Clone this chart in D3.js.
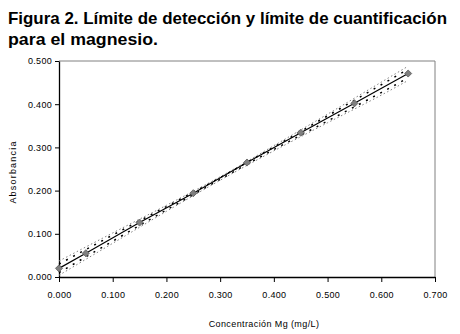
<!DOCTYPE html>
<html>
<head>
<meta charset="utf-8">
<script src="https://cdn.jsdelivr.net/npm/d3@7"></script>
<style>
    body { margin: 0; background: #fff; }
    svg { display: block; font-family: "Liberation Sans", Arial, sans-serif; }
</style>
</head>
<body>
<script>
// measured standards
const concentrations = [0.00, 0.05, 0.15, 0.25, 0.35, 0.45, 0.55, 0.65];
const absorbances = [0.020, 0.055, 0.126, 0.194, 0.265, 0.334, 0.402, 0.471];

// confidence / prediction bands
const bandX = [0.00, 0.10, 0.20, 0.30, 0.40, 0.50, 0.60, 0.65];
const outerUpper = [0.037, 0.102, 0.166, 0.232, 0.304, 0.377, 0.451, 0.488];
const outerLower = [0.004, 0.078, 0.152, 0.224, 0.292, 0.357, 0.421, 0.455];
const innerUpper = [0.030, 0.097, 0.163, 0.230, 0.301, 0.373, 0.445, 0.481];
const innerLower = [0.010, 0.083, 0.155, 0.226, 0.295, 0.361, 0.427, 0.461];

const xTicks = [0, 0.1, 0.2, 0.3, 0.4, 0.5, 0.6, 0.7];
const yTicks = [0, 0.1, 0.2, 0.3, 0.4, 0.5];

const titleLines = ['Figura 2. Límite de detección y límite de cuantificación', 'para el magnesio.'];
const titleWidths = [439, 150];
const xTitle = 'Concentración Mg (mg/L)';
const yTitle = 'Absorbancia';

drawChart();

function drawChart()
{
    const width = 460;
    const height = 334;
    const margin = {left: 59, right: 25, top: 61, bottom: 57};

    const svg = d3.select('body')
        .append('svg')
        .attr('width', width)
        .attr('height', height);

    // title, fitted to the width it has in the original
    svg.append('g')
        .selectAll('text')
        .data(titleLines)
        .enter()
        .append('text')
        .attr('x', 8)
        .attr('y', (d, i) => 24 + i * 20.5)
        .attr('font-size', 17)
        .attr('font-weight', 'bold')
        .attr('fill', '#000')
        .attr('textLength', (d, i) => titleWidths[i])
        .attr('lengthAdjust', 'spacingAndGlyphs')
        .text(d => d);

    const x = d3.scaleLinear()
        .domain([0, 0.7])
        .range([margin.left, width - margin.right]);

    const y = d3.scaleLinear()
        .domain([0, 0.5])
        .range([height - margin.bottom, margin.top]);

    // grey frame on top and right
    svg.append('path')
        .attr('d', `M${x(0)},${y(0.5)}H${x(0.7)}V${y(0)}`)
        .attr('fill', 'none')
        .attr('stroke', '#808080')
        .attr('stroke-width', 1);

    const fmt = d3.format('.3f');

    const xAxis = svg.append('g')
        .attr('transform', `translate(0,${y(0)})`)
        .call(d3.axisBottom(x).tickValues(xTicks).tickFormat(fmt).tickSize(5).tickSizeOuter(0));

    const yAxis = svg.append('g')
        .attr('transform', `translate(${x(0)},0)`)
        .call(d3.axisLeft(y).tickValues(yTicks).tickFormat(fmt).tickSize(4).tickSizeOuter(0));

    [xAxis, yAxis].forEach(a =>
    {
        a.select('.domain').attr('stroke', '#000').attr('stroke-width', 1.3);
        a.selectAll('.tick line').attr('stroke', '#000');
        a.selectAll('.tick text')
            .attr('font-family', '"Liberation Sans", Arial, sans-serif')
            .attr('font-size', 9)
            .attr('letter-spacing', 0.3)
            .attr('fill', '#000');
    });
    xAxis.selectAll('.tick text').attr('dy', '0.71em').attr('y', 15);
    yAxis.selectAll('.tick text').attr('x', -7);

    // axis titles
    svg.append('text')
        .attr('x', 264)
        .attr('y', 327)
        .attr('text-anchor', 'middle')
        .attr('font-size', 9)
        .attr('letter-spacing', 0.4)
        .text(xTitle);

    svg.append('text')
        .attr('transform', `translate(16,${(y(0) + y(0.5)) / 2 + 3}) rotate(-90)`)
        .attr('text-anchor', 'middle')
        .attr('font-size', 9)
        .attr('letter-spacing', 1.2)
        .text(yTitle);

    const line = d3.line()
        .x(d => x(d[0]))
        .y(d => y(d[1]));

    // bands
    const bands = [
        {values: outerUpper, color: '#808080', dash: '1.5,2.5', w: 1},
        {values: outerLower, color: '#808080', dash: '1.5,2.5', w: 1},
        {values: innerUpper, color: '#000', dash: '2,6', w: 1.5},
        {values: innerLower, color: '#000', dash: '2,6', w: 1.5}
    ];

    svg.append('g')
        .selectAll('path')
        .data(bands)
        .enter()
        .append('path')
        .attr('d', d => d3.line().curve(d3.curveMonotoneX)
            .x((v, i) => x(bandX[i]))
            .y(v => y(v))(d.values))
        .attr('fill', 'none')
        .attr('stroke', d => d.color)
        .attr('stroke-width', d => d.w)
        .attr('stroke-dasharray', d => d.dash);

    const points = concentrations.map((c, i) => [c, absorbances[i]]);

    // fitted line through the standards
    svg.append('path')
        .attr('d', line(points))
        .attr('fill', 'none')
        .attr('stroke', '#000')
        .attr('stroke-width', 1.2);

    // diamond markers
    svg.append('g')
        .selectAll('path')
        .data(points)
        .enter()
        .append('path')
        .attr('transform', d => `translate(${x(d[0])},${y(d[1])})`)
        .attr('d', d3.symbol().type(d3.symbolDiamond2).size(32))
        .attr('fill', '#7f7f7f')
        .attr('stroke', '#5a5a5a')
        .attr('stroke-width', 0.8);
}
</script>
</body>
</html>
